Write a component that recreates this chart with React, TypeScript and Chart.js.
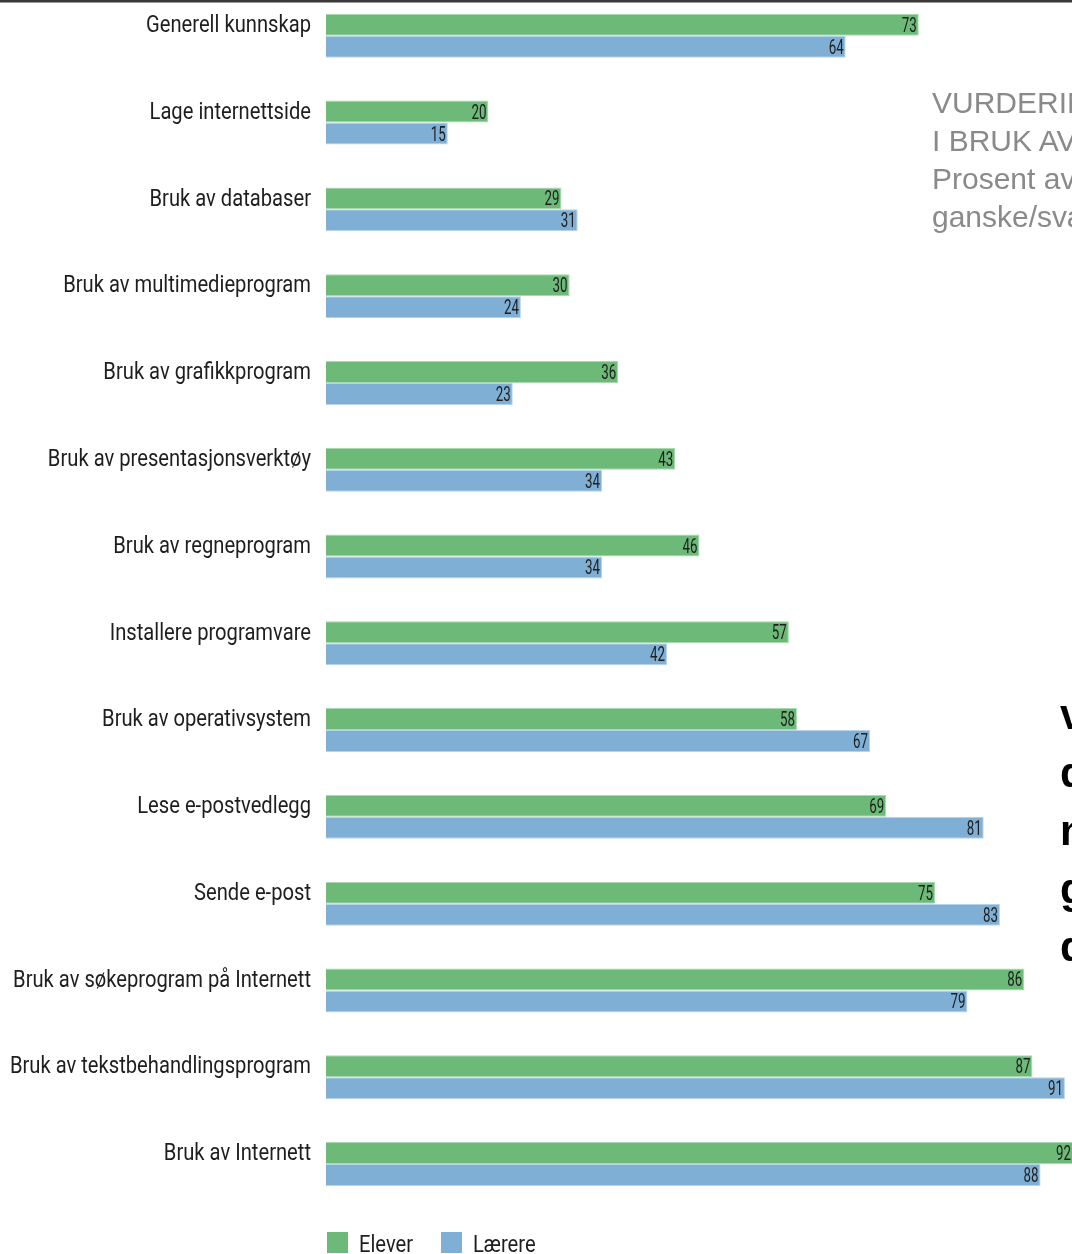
import React, { useEffect, useRef } from "react";
import { Chart, registerables } from "chart.js";

Chart.register(...registerables);

const categories = [
  "Generell kunnskap",
  "Lage internettside",
  "Bruk av databaser",
  "Bruk av multimedieprogram",
  "Bruk av grafikkprogram",
  "Bruk av presentasjonsverktøy",
  "Bruk av regneprogram",
  "Installere programvare",
  "Bruk av operativsystem",
  "Lese e-postvedlegg",
  "Sende e-post",
  "Bruk av søkeprogram på Internett",
  "Bruk av tekstbehandlingsprogram",
  "Bruk av Internett",
];

const elever = [73, 20, 29, 30, 36, 43, 46, 57, 58, 69, 75, 86, 87, 92];
const laerere = [64, 15, 31, 24, 23, 34, 34, 42, 67, 81, 83, 79, 91, 88];

const seriesNames = ["Elever", "Lærere"];
const seriesColors = ["#6dba78", "#80afd5"];
const seriesBorders = ["#a9d9b0", "#b7d4eb"];

const sideTitle = ["VURDERING AV", "I BRUK AV IKT", "Prosent av elever", "ganske/svært god"];
const sideQuote = ["vi", "de", "ne", "gi", "de"];

const FONT = "Roboto, 'Liberation Sans', sans-serif";
const CANVAS_TOP = -20;

// horizontal condensing factors measured against the reference widths
function condense(ctx: CanvasRenderingContext2D, font: string, text: string, target: number) {
  ctx.font = font;
  return target / ctx.measureText(text).width;
}

const textPlugin = {
  id: "condensedText",
  afterDraw(chart: any) {
    const ctx: CanvasRenderingContext2D = chart.ctx;
    ctx.save();
    const labelFont = `23px ${FONT}`;
    const sx = condense(ctx, labelFont, "Generell kunnskap", 165);
    // category labels
    const yScale = chart.scales.y;
    ctx.fillStyle = "#1e1e1e";
    ctx.textBaseline = "middle";
    chart.data.labels.forEach((lab: string, i: number) => {
      const y = yScale.getPixelForValue(i) - 9.5;
      ctx.save();
      ctx.translate(311, y);
      ctx.scale(sx, 1);
      ctx.font = labelFont;
      ctx.textAlign = "right";
      ctx.fillText(lab, 0, 0);
      ctx.restore();
    });
    // value labels
    const valFont = `20px ${FONT}`;
    const vx = condense(ctx, valFont, "73", 15);
    chart.data.datasets.forEach((ds: any, di: number) => {
      const meta = chart.getDatasetMeta(di);
      meta.data.forEach((bar: any, i: number) => {
        ctx.save();
        ctx.translate(bar.x - 2, bar.y + 2);
        ctx.scale(vx, 1);
        ctx.font = valFont;
        ctx.textAlign = "right";
        ctx.fillText(String(ds.data[i]), 0, 0);
        ctx.restore();
      });
    });
    // legend
    const xs = [327, 441];
    const boxTop = 1232 - CANVAS_TOP;
    chart.data.datasets.forEach((ds: any, di: number) => {
      const x = xs[di];
      ctx.fillStyle = ds.backgroundColor;
      ctx.fillRect(x, boxTop, 21, 21);
      ctx.fillStyle = "#1e1e1e";
      ctx.save();
      ctx.translate(x + 32, boxTop + 20);
      ctx.scale(sx, 1);
      ctx.font = labelFont;
      ctx.textAlign = "left";
      ctx.textBaseline = "alphabetic";
      ctx.fillText(ds.label, 0, 0);
      ctx.restore();
    });
    ctx.restore();
  },
};

export default function App() {
  const ref = useRef<HTMLCanvasElement>(null);

  useEffect(() => {
    if (!ref.current) return;
    const chart = new Chart(ref.current, {
      type: "bar",
      data: {
        labels: categories,
        datasets: [
          {
            label: seriesNames[0],
            data: elever,
            backgroundColor: seriesColors[0],
            borderColor: seriesBorders[0],
            borderWidth: 1,
            barPercentage: 1,
            categoryPercentage: 0.5066,
          },
          {
            label: seriesNames[1],
            data: laerere,
            backgroundColor: seriesColors[1],
            borderColor: seriesBorders[1],
            borderWidth: 1,
            barPercentage: 1,
            categoryPercentage: 0.5066,
          },
        ],
      },
      options: {
        indexAxis: "y",
        responsive: false,
        animation: false,
        devicePixelRatio: 1,
        layout: { padding: { top: 12.4, bottom: 72.6, left: 0, right: 2 } },
        plugins: {
          legend: { display: false },
          tooltip: { enabled: false },
        },
        scales: {
          x: { min: 0, max: 100, display: false },
          y: {
            grid: { display: false, drawTicks: false },
            border: { display: false },
            ticks: { display: false },
            afterFit: (s: any) => {
              s.width = 326;
            },
          },
        },
      },
      plugins: [textPlugin],
    } as any);
    return () => chart.destroy();
  }, []);

  return (
    <div
      style={{
        position: "absolute",
        left: 0,
        top: 0,
        width: 1072,
        height: 1254,
        overflow: "hidden",
        background: "#fff",
      }}
    >
      <canvas
        ref={ref}
        width={1140}
        height={1300}
        style={{ position: "absolute", left: 0, top: CANVAS_TOP, width: 1140, height: 1300 }}
      />
      <div
        style={{
          position: "absolute",
          left: 0,
          top: 0,
          width: 1072,
          height: 2,
          background: "#3a3a3a",
          borderBottom: "1px solid #9a9a9a",
        }}
      />
      <div
        style={{
          position: "absolute",
          left: 932,
          top: 83.6,
          whiteSpace: "nowrap",
          fontFamily: "'Liberation Sans', Arial, sans-serif",
          fontSize: 30,
          lineHeight: "38px",
          color: "#8a8a8a",
        }}
      >
        {sideTitle.map((t, i) => (
          <div key={i}>{t}</div>
        ))}
      </div>
      <div
        style={{
          position: "absolute",
          left: 1060,
          top: 686,
          whiteSpace: "nowrap",
          fontFamily: "'Liberation Sans', Arial, sans-serif",
          fontWeight: "bold",
          fontSize: 42,
          lineHeight: "58px",
          color: "#000",
        }}
      >
        {sideQuote.map((t, i) => (
          <div key={i}>{t}</div>
        ))}
      </div>
    </div>
  );
}
